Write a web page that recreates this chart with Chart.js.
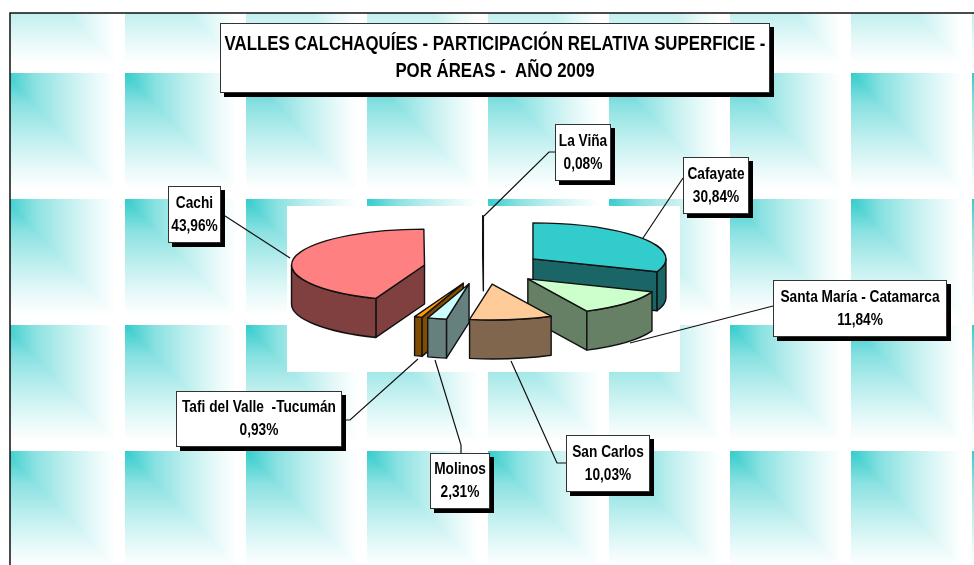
<!DOCTYPE html>
<html>
<head>
<meta charset="utf-8">
<style>
  html, body { margin: 0; padding: 0; background: #fff; }
  canvas { display: block; }
</style>
<script src="https://cdn.jsdelivr.net/npm/chart.js@4"></script>
</head>
<body>
<canvas id="pie" width="974" height="565"></canvas>
<script>
const titleLines = ['VALLES CALCHAQUÍES - PARTICIPACIÓN RELATIVA SUPERFICIE -', 'POR ÁREAS -  AÑO 2009'];
const categories = ['Cafayate', 'Santa María - Catamarca', 'San Carlos', 'Molinos', 'Tafi del Valle  -Tucumán', 'Cachi', 'La Viña'];
const shares = [30.84, 11.84, 10.03, 2.31, 0.93, 43.96, 0.08];
const topColors = ['#33CCCC', '#CCFFCC', '#FFCC99', '#CCFFFF', '#FF9900', '#FF8080', '#FF6600'];
const wallColors = ['#1A6666', '#668066', '#80664D', '#668080', '#804D00', '#804040', '#803300'];

// label boxes and leader lines, same order as categories
const labelBoxes = [
  [683, 157, 66, 57], [773, 280, 174, 57], [566, 435, 84, 57], [430, 453, 60, 56],
  [176, 391, 166, 56], [168, 186, 53, 57], [555, 124, 56, 57]
];
const leaders = [
  [[683, 178], [643, 238]],
  [[773, 306], [630, 343]],
  [[566, 463], [557, 463], [511, 361]],
  [[461, 453], [461, 445], [435, 360]],
  [[342, 420], [350, 420], [418, 359]],
  [[222, 214], [290, 258]],
  [[555, 152], [549, 152], [484, 216]]
];

const FONT = '"Liberation Sans", Arial, sans-serif';
const NARROW = 0.83;
const SQUASH = 0.27;
const DEPTH = 39;
const RADIUS = 133;
const EXPLODE = 60;
// how far from white the tile is along its fade
const TILE_STOPS = [[0, 0], [0.25, 0.42], [0.5, 0.67], [0.75, 0.88], [0.92, 1], [1, 1]];

function tileGradient(ctx, x0, y0, x1, y1) {
  const g = ctx.createLinearGradient(x0, y0, x1, y1);
  TILE_STOPS.forEach(s => {
    const m = s[1];
    const r = Math.round(51 + 204 * m);
    const c = Math.round(204 + 51 * m);
    g.addColorStop(s[0], 'rgb(' + r + ',' + c + ',' + c + ')');
  });
  return g;
}

function drawTile(ctx, x, y, w, h) {
  ctx.fillStyle = tileGradient(ctx, x, 0, x + w, 0);
  ctx.fillRect(x, y, w, h);
  ctx.save();
  ctx.beginPath();
  ctx.moveTo(x, y);
  ctx.lineTo(x + w, y + h);
  ctx.lineTo(x, y + h);
  ctx.closePath();
  ctx.clip();
  ctx.fillStyle = tileGradient(ctx, 0, y, 0, y + h);
  ctx.fillRect(x, y, w, h);
  ctx.restore();
}

function apex(chart, arc) {
  const cy = (chart.chartArea.top + chart.chartArea.bottom) / 2;
  return { x: arc.x, y: cy + (arc.y - cy) * SQUASH };
}

function edge(p, angle) {
  return { x: p.x + Math.cos(angle) * RADIUS, y: p.y + Math.sin(angle) * RADIUS * SQUASH };
}

function radialWall(ctx, p, angle, color) {
  const e = edge(p, angle);
  ctx.beginPath();
  ctx.moveTo(p.x, p.y);
  ctx.lineTo(e.x, e.y);
  ctx.lineTo(e.x, e.y + DEPTH);
  ctx.lineTo(p.x, p.y + DEPTH);
  ctx.closePath();
  ctx.fillStyle = color;
  ctx.fill();
  ctx.stroke();
}

function drawWalls(ctx, p, arc, color) {
  const a1 = arc.startAngle;
  const a2 = arc.endAngle;
  ctx.lineWidth = 1.4;
  ctx.strokeStyle = '#111';
  ctx.lineJoin = 'round';

  if (Math.cos(a2) > 0) radialWall(ctx, p, a2, color);
  if (Math.cos(a1) <= 0) radialWall(ctx, p, a1, color);

  // outer rim, front half only
  const from = Math.max(a1, 0);
  const to = Math.min(a2, Math.PI);
  if (to > from) {
    ctx.beginPath();
    ctx.ellipse(p.x, p.y, RADIUS, RADIUS * SQUASH, 0, from, to);
    ctx.ellipse(p.x, p.y + DEPTH, RADIUS, RADIUS * SQUASH, 0, to, from, true);
    ctx.closePath();
    ctx.fillStyle = color;
    ctx.fill();
    ctx.stroke();
  }
}

function boxedText(ctx, box, lines, size, gap) {
  const [x, y, w, h] = box;
  ctx.fillStyle = '#000';
  ctx.fillRect(x + 4, y + 4, w, h);
  ctx.fillStyle = '#fff';
  ctx.fillRect(x, y, w, h);
  ctx.strokeStyle = '#333';
  ctx.lineWidth = 1;
  ctx.strokeRect(x + 0.5, y + 0.5, w - 1, h - 1);

  ctx.fillStyle = '#000';
  ctx.font = 'bold ' + size + 'px ' + FONT;
  ctx.textAlign = 'center';
  ctx.textBaseline = 'middle';
  const top = y + h / 2 - (lines.length - 1) * gap / 2;
  lines.forEach((line, i) => {
    ctx.fillText(line, x + w / 2, top + i * gap, ctx.measureText(line).width * NARROW);
  });
}

const scene3d = {
  id: 'scene3d',
  beforeDraw(chart) {
    const ctx = chart.ctx;
    ctx.save();
    ctx.fillStyle = '#fff';
    ctx.fillRect(0, 0, chart.width, chart.height);
    ctx.beginPath();
    ctx.rect(10, 13, chart.width - 10, chart.height - 13);
    ctx.clip();
    for (let y = -53; y < chart.height; y += 126) {
      for (let x = 4; x < chart.width; x += 121) {
        drawTile(ctx, x, y, 121, 126);
      }
    }
    ctx.restore();
    ctx.save();
    ctx.strokeStyle = '#111';
    ctx.lineWidth = 1.5;
    ctx.beginPath();
    ctx.moveTo(10, chart.height);
    ctx.lineTo(10, 13);
    ctx.lineTo(chart.width, 13);
    ctx.stroke();
    ctx.fillStyle = '#fff';
    const area = chart.chartArea;
    ctx.fillRect(area.left, area.top, area.width, 166);
    ctx.restore();
  },
  afterDatasetsUpdate(chart) {
    // pull every slice out along its own middle angle
    chart.getDatasetMeta(0).data.forEach(arc => {
      const mid = (arc.startAngle + arc.endAngle) / 2;
      arc.x += Math.cos(mid) * EXPLODE;
      arc.y += Math.sin(mid) * EXPLODE;
    });
  },
  beforeDatasetsDraw(chart) {
    const ctx = chart.ctx;
    const arcs = chart.getDatasetMeta(0).data;
    const order = arcs.map((arc, i) => i).sort((a, b) => arcs[a].y - arcs[b].y);
    ctx.save();
    order.forEach(i => drawWalls(ctx, apex(chart, arcs[i]), arcs[i], wallColors[i]));
    ctx.restore();

    const cy = (chart.chartArea.top + chart.chartArea.bottom) / 2;
    ctx.save();
    ctx.translate(0, cy);
    ctx.scale(1, SQUASH);
    ctx.translate(0, -cy);
  },
  afterDatasetsDraw(chart) {
    const ctx = chart.ctx;
    ctx.restore();
    ctx.save();
    ctx.lineWidth = 1.4;
    ctx.strokeStyle = '#111';
    ctx.lineJoin = 'round';
    chart.getDatasetMeta(0).data.forEach(arc => {
      const p = apex(chart, arc);
      ctx.beginPath();
      ctx.moveTo(p.x, p.y);
      ctx.ellipse(p.x, p.y, RADIUS, RADIUS * SQUASH, 0, arc.startAngle, arc.endAngle);
      ctx.closePath();
      ctx.stroke();
    });
    ctx.restore();
  },
  afterDraw(chart) {
    const ctx = chart.ctx;
    ctx.save();
    ctx.strokeStyle = '#111';
    ctx.lineWidth = 1.2;
    leaders.forEach(line => {
      ctx.beginPath();
      line.forEach((pt, i) => (i ? ctx.lineTo(pt[0], pt[1]) : ctx.moveTo(pt[0], pt[1])));
      ctx.stroke();
    });
    categories.forEach((name, i) => {
      const pct = shares[i].toFixed(2).replace('.', ',') + '%';
      boxedText(ctx, labelBoxes[i], [name, pct], 16.5, 23);
    });
    boxedText(ctx, [220, 23, 550, 70], titleLines, 20.3, 27);
    ctx.restore();
  }
};

new Chart(document.getElementById('pie'), {
  type: 'pie',
  data: {
    labels: categories,
    datasets: [{
      data: shares,
      backgroundColor: topColors,
      borderWidth: 0,
      radius: RADIUS,
      clip: false
    }]
  },
  options: {
    responsive: false,
    animation: false,
    layout: { padding: { left: 287, right: 294, top: 206, bottom: 235 } },
    plugins: { legend: { display: false }, tooltip: { enabled: false } }
  },
  plugins: [scene3d]
});
</script>
</body>
</html>
